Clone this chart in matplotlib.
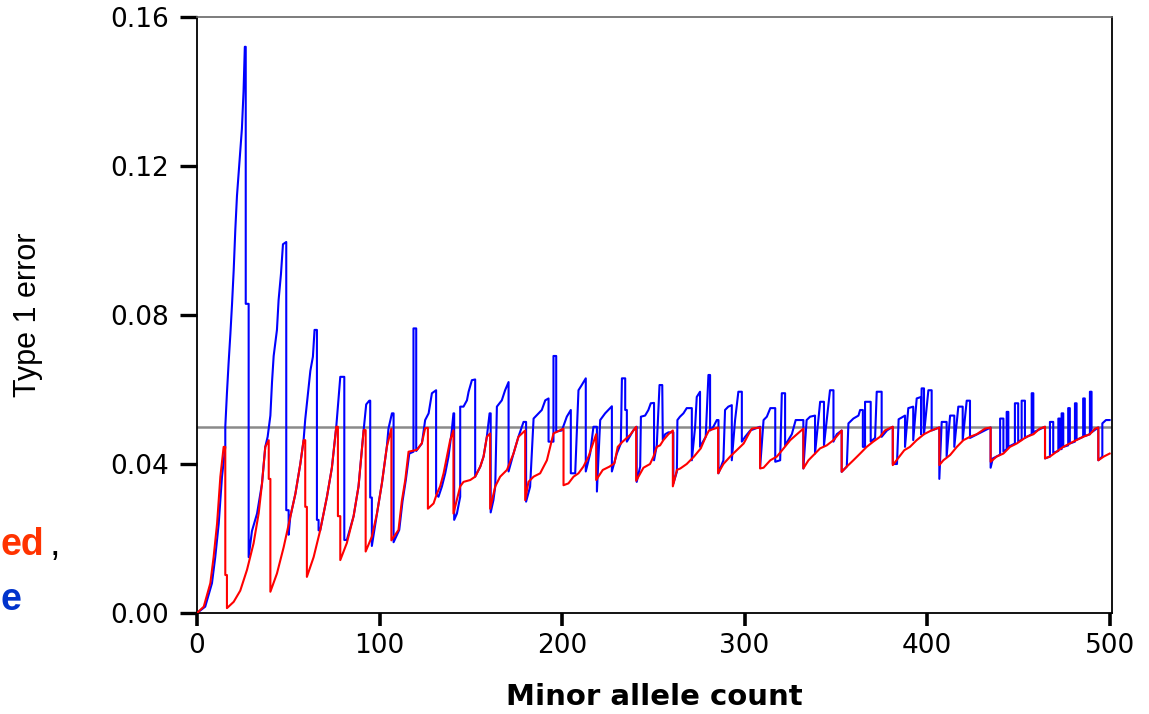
import matplotlib
matplotlib.use('Agg')
import matplotlib.pyplot as plt

plt.rcParams['font.family'] = 'DejaVu Sans'

# ---- data (vertices of the step curves) ----
red_x = [0, 3.7, 7.3, 9.1, 11.0, 12.8, 14.6, 15.5, 15.5, 16.4, 16.4,
         20.1, 23.7, 27.4, 31.0, 33.8, 35.6, 37.4, 39.3, 39.3, 40.2, 40.2,
         43.8, 47.5, 51.1, 53.9, 56.6, 58.4, 59.3, 59.3, 60.2, 60.2,
         63.9, 67.5, 71.2, 73.9, 76.3, 77.2, 77.2, 78.5, 78.5,
         82.1, 85.8, 88.5, 91.3, 92.4, 92.4,
         95.8, 98.6, 101.3, 104.0, 106.5, 106.5,
         110.4, 112.2, 114.1, 115.9, 120.5, 123.2, 125.0, 126.5, 126.5,
         129.6, 131.4, 133.2, 135.1, 136.9, 138.7, 140.5, 140.5,
         144.2, 146.0, 149.7, 152.4, 155.2, 157.0, 158.8, 160.6, 160.6,
         163.4, 166.1, 169.8, 173.4, 176.1, 179.8, 179.8,
         181.6, 184.4, 188.0, 191.7, 193.5, 195.3, 200.8, 200.8,
         203.5, 206.3, 209.0, 211.7, 214.5, 216.3, 218.7, 218.7,
         222.3, 226.0, 228.7, 230.5, 233.2, 237.3, 240.6, 240.6,
         244.6, 248.2, 250.1, 251.9, 253.7, 255.5, 258.3, 260.7, 260.7,
         262.9, 264.8, 268.3, 272.3, 276.0, 278.7, 280.5, 285.5, 285.5,
         288.4, 292.1, 295.7, 299.5, 302.2, 304.0, 308.5, 308.5,
         310.4, 314.1, 317.7, 321.4, 325.0, 328.7, 332.2, 332.2,
         335.0, 338.6, 341.4, 345.0, 348.7, 353.2, 353.2,
         356.0, 359.6, 363.3, 366.9, 370.5, 374.2, 376.9, 381.2, 381.2,
         387.5, 390.6, 394.3, 398.3, 402.3, 406.7, 406.7,
         408.9, 412.6, 416.3, 419.9, 423.5, 427.2, 431.7, 434.8, 434.8,
         438.1, 441.8, 445.4, 449.1, 454.5, 458.3, 461.7, 464.6, 464.6,
         467.3, 471.0, 474.6, 480.1, 485.5, 489.2, 492.0, 493.8, 493.8,
         496.8, 500.0]
red_y = [0, 0.0017, 0.008, 0.015, 0.024, 0.0366, 0.0446, 0.0446, 0.0102, 0.0102, 0.0013,
         0.003, 0.006, 0.0116, 0.0187, 0.0268, 0.0347, 0.0446, 0.0464, 0.036, 0.036, 0.0057,
         0.0106, 0.0177, 0.0258, 0.032, 0.040, 0.0464, 0.0464, 0.0285, 0.0285, 0.0097,
         0.015, 0.0222, 0.0312, 0.039, 0.050, 0.050, 0.026, 0.026, 0.0142,
         0.0188, 0.026, 0.034, 0.0491, 0.0491, 0.0165,
         0.0205, 0.0267, 0.0348, 0.0446, 0.0495, 0.0195,
         0.0223, 0.030, 0.0357, 0.0433, 0.0438, 0.0456, 0.0496, 0.0497, 0.028,
         0.0294, 0.032, 0.034, 0.0375, 0.042, 0.0464, 0.049, 0.0267,
         0.034, 0.0352, 0.0357, 0.0366, 0.0393, 0.042, 0.0473, 0.0482, 0.028,
         0.034, 0.0366, 0.0384, 0.0428, 0.0473, 0.049, 0.0303,
         0.0352, 0.0366, 0.0375, 0.041, 0.0446, 0.0482, 0.0495, 0.0343,
         0.0348, 0.0366, 0.0375, 0.0393, 0.042, 0.0446, 0.048, 0.0357,
         0.0384, 0.0393, 0.0402, 0.0446, 0.046, 0.0478, 0.050, 0.0355,
         0.039, 0.040, 0.042, 0.0446, 0.045, 0.0464, 0.048, 0.049, 0.034,
         0.0384, 0.0388, 0.040, 0.042, 0.0442, 0.0473, 0.049, 0.0498, 0.0375,
         0.040, 0.042, 0.0437, 0.0455, 0.048, 0.0495, 0.0498, 0.0388,
         0.039, 0.041, 0.042, 0.0442, 0.0464, 0.048, 0.0495, 0.0388,
         0.041, 0.0428, 0.0442, 0.045, 0.0464, 0.049, 0.0379,
         0.0393, 0.041, 0.0428, 0.0446, 0.046, 0.0473, 0.049, 0.050, 0.0397,
         0.0437, 0.0446, 0.0464, 0.048, 0.049, 0.0498, 0.0397,
         0.041, 0.0424, 0.0446, 0.0464, 0.0473, 0.048, 0.0495, 0.0498, 0.0406,
         0.042, 0.0428, 0.0446, 0.0455, 0.0473, 0.048, 0.0495, 0.050, 0.0415,
         0.042, 0.0433, 0.0446, 0.046, 0.0473, 0.048, 0.0495, 0.0498, 0.041,
         0.042, 0.0428]

blue_x = [0, 4.5, 8.2, 10.0, 11.9, 13.7, 15.5, 15.5, 16.4, 17.3, 18.3, 19.2, 20.1,
          21.0, 21.9, 23.4, 24.6, 25.5, 26.2, 26.7, 26.7, 28.3, 28.3,
          30.1, 32.9, 35.6, 37.4, 38.7, 40.2, 41.1, 42.0, 43.8, 44.7, 46.0, 47.1,
          48.9, 48.9, 50.2, 50.2,
          51.1, 53.9, 56.6, 58.4, 59.3, 60.6, 62.1, 63.5, 64.4, 65.7, 65.7, 66.6, 66.6,
          67.5, 71.2, 73.9, 76.3, 77.6, 78.5, 80.7, 80.7,
          82.1, 85.8, 88.5, 91.3, 92.7, 94.4, 94.9, 94.9, 95.8, 95.8,
          98.6, 101.3, 104.0, 104.9, 106.8, 107.7, 107.7,
          110.8, 112.6, 114.4, 116.3, 118.6, 118.6, 120.1, 120.1,
          123.2, 125.0, 126.9, 127.8, 128.7, 131.0, 131.0,
          132.3, 134.2, 136.0, 137.8, 139.6, 140.5, 140.9, 140.9,
          142.4, 144.2, 144.2, 146.0, 147.9, 148.8, 150.6, 152.4, 152.4,
          155.2, 157.0, 158.8, 160.3, 160.9, 160.9,
          162.4, 163.4, 164.3, 167.0, 168.8, 170.7, 170.7,
          173.4, 176.1, 178.9, 180.3, 180.3,
          182.5, 184.4, 187.1, 188.9, 190.8, 192.6, 192.6, 195.3, 195.3, 196.8, 196.8,
          199.9, 202.6, 204.8, 204.8, 207.2, 209.0, 210.8, 213.0, 213.0,
          215.4, 217.2, 219.1, 219.1, 220.9, 223.6, 227.3, 227.3,
          230.0, 232.2, 232.8, 234.6, 234.6, 235.5, 235.5, 239.0, 240.9, 240.9,
          242.8, 243.2, 245.5, 247.3, 248.6, 250.4, 250.4,
          251.9, 253.4, 254.9, 255.2, 256.5, 258.3, 261.0, 261.0,
          262.9, 263.2, 264.6, 266.5, 268.3, 271.1, 271.1,
          272.9, 273.8, 275.6, 275.6, 278.7, 280.2, 281.1, 281.1,
          282.9, 284.8, 285.7, 285.7, 288.4, 289.3, 291.1, 293.0, 293.0,
          294.8, 296.6, 298.5, 298.5, 300.3, 303.1, 308.5, 308.5,
          310.4, 312.2, 314.1, 316.8, 316.8, 319.5, 320.4, 322.2, 322.2,
          325.9, 328.0, 332.2, 332.2, 334.0, 335.9, 338.6, 338.6,
          341.4, 343.5, 343.5, 346.8, 348.7, 348.7, 350.5, 353.2, 353.2,
          356.0, 356.9, 359.6, 362.4, 363.3, 364.8, 364.8, 366.0, 366.0, 369.1, 369.1,
          371.5, 372.4, 375.1, 375.1, 378.0, 381.2, 381.2, 383.5,
          384.4, 387.9, 387.9, 389.7, 392.4, 392.4, 394.3, 396.7, 396.7,
          397.0, 398.3, 398.3, 400.7, 402.5, 402.5, 406.7, 406.7,
          408.0, 410.7, 410.7, 412.6, 414.9, 414.9, 417.1, 419.5, 419.5,
          421.7, 423.5, 423.5, 434.8, 434.8,
          436.0, 440.0, 440.0, 441.8, 441.8, 443.6, 443.6, 444.5, 444.5,
          448.1, 448.1, 449.9, 449.9, 451.8, 451.8, 453.6, 453.6,
          457.3, 457.3, 458.2, 458.2, 464.6, 464.6,
          467.3, 467.3, 469.1, 469.1, 471.9, 471.9, 472.8, 472.8,
          473.7, 473.7, 474.6, 474.6, 477.3, 477.3, 478.2, 478.2,
          481.0, 481.0, 481.9, 481.9, 485.5, 485.5, 486.4, 486.4,
          489.2, 489.2, 490.1, 490.1, 493.8, 493.8, 496.0, 496.0, 498.0, 500.0]
blue_y = [0, 0.0017, 0.008, 0.015, 0.024, 0.0366, 0.0446, 0.050, 0.059, 0.067, 0.075, 0.083, 0.092,
          0.103, 0.112, 0.122, 0.130, 0.140, 0.152, 0.152, 0.083, 0.083, 0.015,
          0.022, 0.0267, 0.0347, 0.0446, 0.0473, 0.053, 0.062, 0.069, 0.076, 0.084, 0.091, 0.099,
          0.0996, 0.0276, 0.0276, 0.021,
          0.0258, 0.032, 0.040, 0.0464, 0.052, 0.058, 0.065, 0.0688, 0.076, 0.076, 0.025, 0.025, 0.0222,
          0.0222, 0.0312, 0.039, 0.050, 0.058, 0.0634, 0.0634, 0.0196,
          0.0196, 0.026, 0.034, 0.0491, 0.056, 0.057, 0.057, 0.031, 0.031, 0.018,
          0.0267, 0.0348, 0.0446, 0.0495, 0.0536, 0.0536, 0.019,
          0.0223, 0.030, 0.0357, 0.0428, 0.0433, 0.0764, 0.0764, 0.0435,
          0.0455, 0.0518, 0.0536, 0.0563, 0.059, 0.0598, 0.032,
          0.0312, 0.034, 0.0375, 0.042, 0.049, 0.0536, 0.0536, 0.025,
          0.0267, 0.0312, 0.0554, 0.0554, 0.0571, 0.0594, 0.0625, 0.0627, 0.0366,
          0.0393, 0.042, 0.0473, 0.0536, 0.0536, 0.027,
          0.0303, 0.034, 0.0554, 0.0571, 0.0598, 0.062, 0.038,
          0.0428, 0.0473, 0.0513, 0.0513, 0.0299,
          0.0339, 0.0522, 0.0536, 0.0545, 0.0571, 0.0576, 0.046, 0.046, 0.069, 0.069, 0.0487,
          0.049, 0.0527, 0.0545, 0.0375, 0.0375, 0.0598, 0.0612, 0.063, 0.038,
          0.0428, 0.050, 0.050, 0.0326, 0.0518, 0.0536, 0.0555, 0.038,
          0.0428, 0.0455, 0.063, 0.063, 0.0545, 0.0545, 0.046, 0.049, 0.050, 0.0352,
          0.0393, 0.0527, 0.053, 0.0545, 0.0563, 0.0564, 0.041,
          0.045, 0.0612, 0.0612, 0.0464, 0.048, 0.0485, 0.0485, 0.0348,
          0.0379, 0.0518, 0.0527, 0.0536, 0.055, 0.055, 0.041,
          0.050, 0.058, 0.0594, 0.0446, 0.0473, 0.0639, 0.0639, 0.049,
          0.050, 0.0518, 0.0518, 0.0375, 0.041, 0.0545, 0.0554, 0.0558, 0.041,
          0.0518, 0.0594, 0.0594, 0.046, 0.0473, 0.049, 0.050, 0.039,
          0.0518, 0.0527, 0.055, 0.055, 0.0406, 0.041, 0.059, 0.059, 0.045,
          0.048, 0.0518, 0.0518, 0.0388, 0.0518, 0.0527, 0.053, 0.0428,
          0.0567, 0.0567, 0.045, 0.0598, 0.0598, 0.046, 0.048, 0.049, 0.0379,
          0.0393, 0.0509, 0.0522, 0.053, 0.0545, 0.0545, 0.0446, 0.0446, 0.0567, 0.0567, 0.046,
          0.047, 0.0594, 0.0594, 0.0473, 0.049, 0.050, 0.040, 0.040,
          0.052, 0.053, 0.0446, 0.055, 0.0554, 0.0464, 0.0576, 0.058, 0.048,
          0.0603, 0.0603, 0.048, 0.0598, 0.0598, 0.049, 0.0498, 0.036,
          0.0513, 0.0513, 0.042, 0.053, 0.053, 0.0446, 0.0554, 0.0554, 0.0464,
          0.057, 0.057, 0.047, 0.0498, 0.039,
          0.0415, 0.0425, 0.0522, 0.0522, 0.0433, 0.044, 0.054, 0.054, 0.0446,
          0.0455, 0.0563, 0.0563, 0.046, 0.0465, 0.057, 0.057, 0.047,
          0.048, 0.059, 0.059, 0.0485, 0.050, 0.0415,
          0.042, 0.0513, 0.0513, 0.043, 0.0435, 0.0522, 0.0522, 0.044,
          0.044, 0.0536, 0.0536, 0.0446, 0.045, 0.055, 0.055, 0.0455,
          0.046, 0.0563, 0.0563, 0.0465, 0.0473, 0.0576, 0.0576, 0.0475,
          0.048, 0.0594, 0.0594, 0.0485, 0.0498, 0.041, 0.042, 0.0509, 0.0518, 0.0518]

alpha_level = 0.05
x_ticks = [0, 100, 200, 300, 400, 500]
y_ticks = [0.00, 0.04, 0.08, 0.12, 0.16]

W, H = 1149, 714
fig = plt.figure(figsize=(W / 100, H / 100), dpi=100)
ax = fig.add_axes([197 / W, 101 / H, 915 / W, 596 / H])

ax.plot([0, 500], [alpha_level, alpha_level], color='#8a8a8a', lw=1.8, zorder=1)
ax.plot(blue_x, blue_y, color='#0000ff', lw=1.5, zorder=2)
ax.plot(red_x, red_y, color='#ff0000', lw=1.5, zorder=3)

ax.set_xlim(0, 501.3)
ax.set_ylim(0, 0.16)
ax.set_xticks(x_ticks)
ax.set_yticks(y_ticks)
ax.set_yticklabels([f'{v:.2f}' for v in y_ticks])

for side in ['left', 'bottom', 'right']:
    ax.spines[side].set_color('black')
    ax.spines[side].set_linewidth(1.3)
ax.spines['top'].set_color('#666666')
ax.spines['top'].set_linewidth(1.2)

ax.tick_params(axis='y', direction='out', length=12, width=2.4, labelsize=19, pad=8)
ax.tick_params(axis='x', direction='out', length=9.5, width=2.6, labelsize=19, pad=5)

ax.set_xlabel('Minor allele count', fontsize=21, fontweight='bold')
ax.xaxis.set_label_coords(0.5, -0.118)
ax.set_ylabel('Type 1 error', fontsize=22, family='Liberation Sans')
ax.yaxis.set_label_coords(-0.168, 0.5)

# legend fragments at the left edge, as visible in the source
fig.text(1 / W, 1 - 555 / H, 'ed', color='#ff3300', fontsize=27, fontweight='bold',
         family='Liberation Sans', ha='left', va='baseline')
fig.text(50 / W, 1 - 555 / H, ',', color='black', fontsize=27,
         family='Liberation Sans', ha='left', va='baseline')
fig.text(1 / W, 1 - 610 / H, 'e', color='#0033cc', fontsize=27, fontweight='bold',
         family='Liberation Sans', ha='left', va='baseline')

fig.savefig('out.png', dpi=100)
